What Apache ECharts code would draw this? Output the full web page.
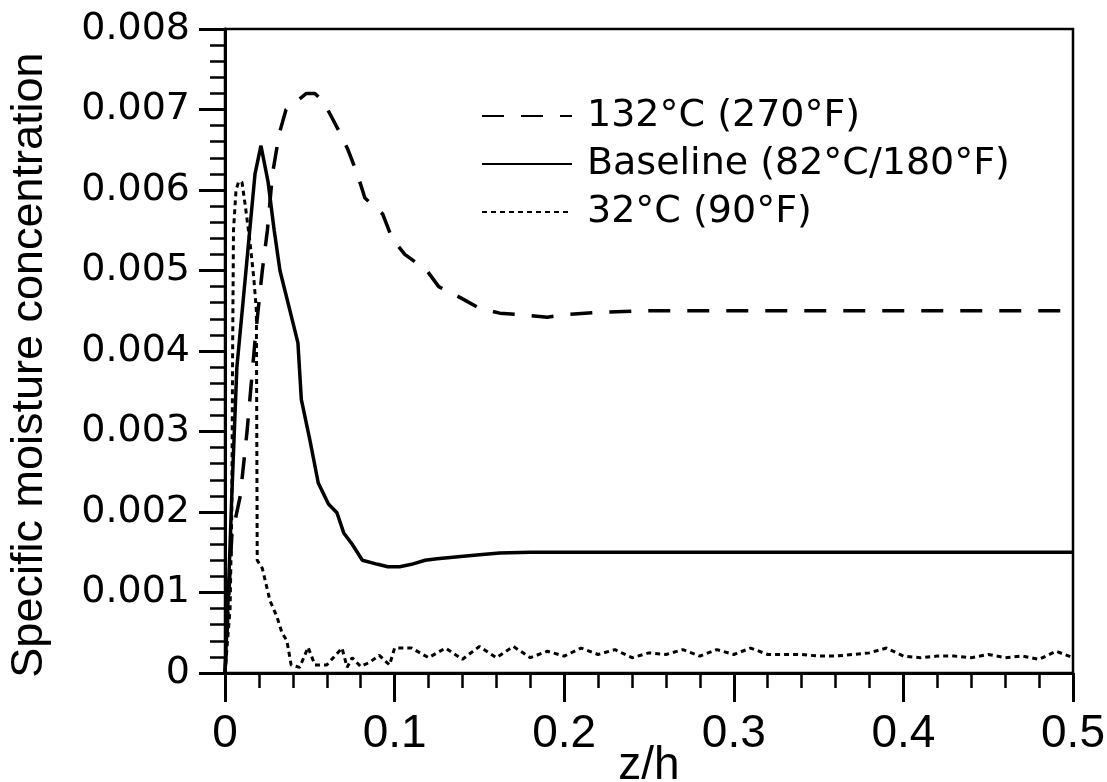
<!DOCTYPE html>
<html>
<head>
<meta charset="utf-8">
<script src="https://cdn.jsdelivr.net/npm/echarts@6/dist/echarts.min.js"></script>
<style>
  html, body { margin: 0; padding: 0; background: #fff; }
  #chart { width: 1107px; height: 782px; }
</style>
</head>
<body>
<div id="chart"></div>
<script>
// 132°C 曲线 (虚线)
const hotX = [0, 0.004, 0.009, 0.013, 0.018, 0.022, 0.025, 0.028, 0.032, 0.036, 0.042, 0.048, 0.053,
  0.058, 0.063, 0.068, 0.0725, 0.078, 0.0825, 0.093, 0.0985, 0.106, 0.119, 0.126, 0.139, 0.15,
  0.162, 0.175, 0.19, 0.2, 0.22, 0.25, 0.3, 0.5];
const hotY = [0, 0.0017, 0.0022, 0.003, 0.0042, 0.005, 0.0055, 0.0062, 0.0067, 0.007, 0.0071, 0.0072, 0.0072,
  0.0071, 0.0069, 0.0067, 0.0065, 0.0062, 0.0059, 0.0057, 0.0054, 0.0052, 0.005, 0.0048, 0.00466, 0.00453,
  0.00447, 0.00445, 0.00442, 0.00445, 0.00448, 0.0045, 0.0045, 0.0045];

// Baseline 曲线 (实线)
const baseX = [0, 0.002, 0.004, 0.007, 0.0106, 0.0177, 0.0212, 0.0254, 0.029, 0.0324, 0.0395, 0.043,
  0.045, 0.05, 0.055, 0.061, 0.066, 0.07, 0.075, 0.081, 0.09, 0.096, 0.103, 0.11, 0.118, 0.125,
  0.15, 0.162, 0.18, 0.5];
const baseY = [0, 0.001, 0.0022, 0.0038, 0.0046, 0.0062, 0.00655, 0.0061, 0.0055, 0.005, 0.0044, 0.0041,
  0.0034, 0.0029, 0.00236, 0.0021, 0.00199, 0.00174, 0.0016, 0.0014, 0.00135, 0.00132, 0.00132, 0.00135,
  0.0014, 0.00142, 0.00147, 0.00149, 0.0015, 0.0015];

// 32°C 曲线 (点线)
const coldX = [0, 0.003, 0.004, 0.0045, 0.005, 0.0065, 0.008, 0.01, 0.012, 0.015, 0.017, 0.0185, 0.019,
  0.022, 0.0265, 0.0306, 0.0336, 0.0365, 0.039, 0.044, 0.049, 0.053, 0.06, 0.069, 0.072, 0.075, 0.08,
  0.085, 0.091, 0.097,
  0.1, 0.11, 0.12, 0.13, 0.14, 0.15, 0.16, 0.17, 0.18, 0.19, 0.2, 0.21, 0.22, 0.23, 0.24, 0.25, 0.26,
  0.27, 0.28, 0.29, 0.3, 0.31, 0.32, 0.33, 0.34, 0.35, 0.36, 0.37, 0.38, 0.39, 0.4, 0.41, 0.42, 0.43,
  0.44, 0.45, 0.46, 0.47, 0.48, 0.49, 0.5];
const coldY = [0, 0.0008, 0.002, 0.004, 0.0055, 0.006, 0.0061, 0.0061, 0.0058, 0.0053, 0.0049, 0.0045, 0.0014,
  0.0013, 0.0009, 0.0007, 0.0005, 0.0004, 0.0001, 0.00007, 0.00032, 0.0001, 0.0001, 0.00031, 0.00007, 0.00019, 0.00008,
  0.00013, 0.00022, 0.0001,
  0.00031, 0.00031, 0.00019, 0.00031, 0.00017, 0.00033, 0.00019, 0.00033, 0.00019, 0.00027, 0.00021, 0.00031,
  0.00023, 0.00029, 0.00019, 0.00025, 0.00023, 0.00029, 0.00021, 0.00029, 0.00023, 0.00031, 0.00023, 0.00023,
  0.00023, 0.00021, 0.00021, 0.00023, 0.00025, 0.00031, 0.00021, 0.00019, 0.00021, 0.00021, 0.00019, 0.00023,
  0.00019, 0.00021, 0.00017, 0.00027, 0.00019];

const seriesNames = ['132°C (270°F)', 'Baseline (82°C/180°F)', '32°C (90°F)'];

const pairs = (xs, ys) => xs.map((x, i) => [x, ys[i]]);

const chart = echarts.init(document.getElementById('chart'));
const font = 'DejaVu Sans';
const narrow = 'Liberation Sans';

const option = {
  animation: false,
  backgroundColor: '#fff',
  grid: {
    left: 225,
    right: 34,
    top: 29,
    bottom: 109,
    outerBoundsMode: 'none',
    show: true,
    borderColor: '#000',
    borderWidth: 2.5
  },
  legend: {
    orient: 'vertical',
    left: 476,
    top: 92,
    itemWidth: 90,
    itemHeight: 14,
    itemGap: 10,
    itemStyle: { opacity: 0 },
    data: seriesNames,
    textStyle: {
      fontFamily: font,
      fontSize: 38,
      color: '#000',
      padding: [0, 0, 0, 10]
    }
  },
  xAxis: {
    type: 'value',
    min: 0,
    max: 0.5,
    interval: 0.1,
    name: 'z/h',
    nameLocation: 'middle',
    nameGap: 70,
    nameMoveOverlap: false,
    nameTextStyle: {
      fontFamily: narrow,
      fontSize: 46,
      color: '#000'
    },
    axisLine: { lineStyle: { color: '#000', width: 3 } },
    axisTick: { length: 29, lineStyle: { color: '#000', width: 3 } },
    minorTick: { show: true, splitNumber: 5, length: 15, lineStyle: { color: '#000', width: 2.5 } },
    splitLine: { show: false },
    axisLabel: {
      fontFamily: narrow,
      fontSize: 46,
      color: '#000',
      margin: 38
    }
  },
  yAxis: {
    type: 'value',
    min: 0,
    max: 0.008,
    interval: 0.001,
    name: 'Specific moisture concentration',
    nameLocation: 'middle',
    nameGap: 173,
    nameMoveOverlap: false,
    nameTextStyle: {
      fontFamily: narrow,
      fontSize: 45,
      color: '#000',
      padding: [0, 28, 0, 0]
    },
    axisLine: { lineStyle: { color: '#000', width: 3 } },
    axisTick: { length: 26, lineStyle: { color: '#000', width: 3 } },
    minorTick: { show: true, splitNumber: 5, length: 15, lineStyle: { color: '#000', width: 2.5 } },
    splitLine: { show: false },
    axisLabel: {
      fontFamily: font,
      fontSize: 38,
      color: '#000',
      margin: 35
    }
  },
  series: [
    {
      name: seriesNames[0],
      type: 'line',
      symbol: 'none',
      data: pairs(hotX, hotY),
      lineStyle: { color: '#000', width: 3.5, type: [22, 17] },
      itemStyle: { color: '#000' }
    },
    {
      name: seriesNames[1],
      type: 'line',
      symbol: 'none',
      data: pairs(baseX, baseY),
      lineStyle: { color: '#000', width: 3.5, type: 'solid' },
      itemStyle: { color: '#000' }
    },
    {
      name: seriesNames[2],
      type: 'line',
      symbol: 'none',
      data: pairs(coldX, coldY),
      lineStyle: { color: '#000', width: 3, type: [5, 4] },
      itemStyle: { color: '#000' }
    }
  ]
};
chart.setOption(option);
</script>
</body>
</html>
